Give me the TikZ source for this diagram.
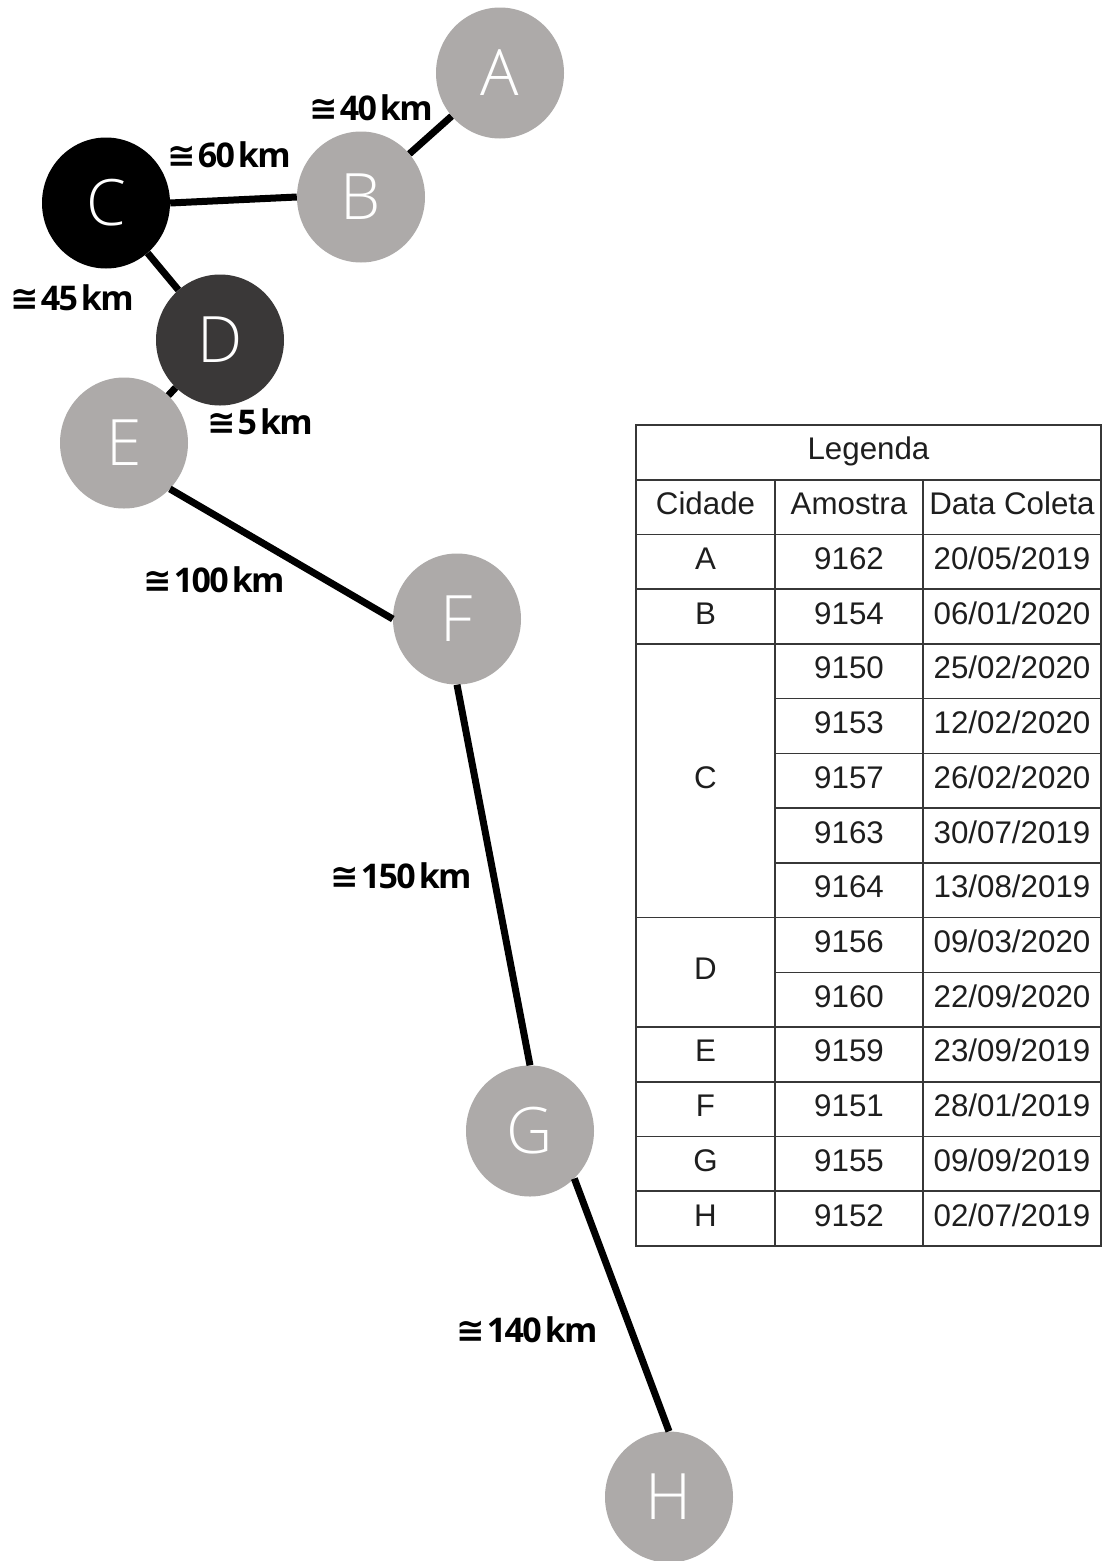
\documentclass[tikz,border=0pt]{standalone}
\usepackage{fontspec}
\setmainfont{Liberation Sans}
\newfontfamily\cityfont{Open Sans Light}
\newfontfamily\kmfont[LetterSpace=-5]{Open Sans}
\newfontfamily\symfont{DejaVu Sans}
\usetikzlibrary{shapes.geometric}

\definecolor{cityGray}{RGB}{173,170,169}
\definecolor{cityDark}{RGB}{58,56,56}
\definecolor{gridLine}{RGB}{55,55,55}
\definecolor{cellText}{RGB}{30,30,30}

% distance label: congruence sign, value, unit
\newcommand\approxkm[1]{{\symfont\bfseries ≅}\hspace{2pt}#1\hspace{3pt}km}

\begin{document}
\begin{tikzpicture}[x=1pt,y=-1pt,
  city/.style={ellipse, minimum width=128pt, minimum height=131pt, inner sep=0pt,
    fill=cityGray, text=white, font=\cityfont\fontsize{64}{64}\selectfont},
  road/.style={line width=7pt, black},
  dist/.style={font=\kmfont\bfseries\fontsize{34}{34}\selectfont, inner sep=0pt},
  cell/.style={anchor=base, inner sep=0pt, text=cellText, font=\fontsize{31.3}{31.3}\selectfont},
  gridrule/.style={line width=1.6pt, gridLine}]

\useasboundingbox (0,0) rectangle (1103,1561);
\fill[white] (0,0) rectangle (1103,1561);

% roads (drawn first, cities cover their ends)
\coordinate (pA) at (500,73);
\coordinate (pB) at (361,197);
\coordinate (pC) at (106,203);
\coordinate (pD) at (220,340);
\coordinate (pE) at (124,443);
\coordinate (pF) at (457,619);
\coordinate (pG) at (530,1131);
\coordinate (pH) at (669,1497);

% cities
\node[city] (A) at (pA) {A};
\node[city] (B) at (pB) {B};
\node[city, fill=black] (C) at (pC) {C};
\node[city, fill=cityDark] (D) at (pD) {D};
\node[city] (E) at (pE) {E};
\node[city] (F) at (pF) {F};
\node[city] (G) at (pG) {G};
\node[city] (H) at (pH) {H};

\draw[road] (A) -- (B);
\draw[road] (B.west) -- (C.east);
\draw[road] (C) -- (D);
\draw[road] (D) -- (E);
\draw[road] (E.-45) -- (F.west);
\draw[road] (F.south) -- (G.north);
\draw[road] (G.-47) -- (H.north);

% distances
\node[dist] (dAB) at (371,108) {\approxkm{40}};
\node[dist] (dBC) at (229,155) {\approxkm{60}};
\node[dist] (dCD) at (72,298) {\approxkm{45}};
\node[dist] (dDE) at (260,422) {\approxkm{5}};
\node[dist] (dEF) at (214,580) {\approxkm{100}};
\node[dist] (dFG) at (401,876) {\approxkm{150}};
\node[dist] (dGH) at (527,1330) {\approxkm{140}};

% legend table
\def\rh{54.733}
\def\ty{425}
\def\bl{7.5}
\foreach \k in {1,2,3,4,9,11,12,13,14}
  \draw[gridrule] (636,{\ty+\k*\rh}) -- (1101,{\ty+\k*\rh});
\foreach \k in {5,6,7,8,10}
  \draw[gridrule] (775,{\ty+\k*\rh}) -- (1101,{\ty+\k*\rh});
\draw[gridrule] (775,{\ty+\rh}) -- (775,1246);
\draw[gridrule] (923,{\ty+\rh}) -- (923,1246);
\draw[gridrule, line width=2pt] (636,425) rectangle (1101,1246);

\node[cell] (legTitle) at (868.5,{\ty+0.5*\rh+\bl}) {Legenda};
\node[cell] (hCity) at (705.5,{\ty+1.5*\rh+\bl}) {Cidade};
\node[cell] (hSample) at (849,{\ty+1.5*\rh+\bl}) {Amostra};
\node[cell] (hDate) at (1012,{\ty+1.5*\rh+\bl}) {Data Coleta};

\foreach \k/\s/\d in {2/9162/20\slash 05\slash 2019, 3/9154/06\slash 01\slash 2020,
    4/9150/25\slash 02\slash 2020, 5/9153/12\slash 02\slash 2020, 6/9157/26\slash 02\slash 2020,
    7/9163/30\slash 07\slash 2019, 8/9164/13\slash 08\slash 2019, 9/9156/09\slash 03\slash 2020,
    10/9160/22\slash 09\slash 2020, 11/9159/23\slash 09\slash 2019, 12/9151/28\slash 01\slash 2019,
    13/9155/09\slash 09\slash 2019, 14/9152/02\slash 07\slash 2019}{
  \node[cell] (s\k) at (849,{\ty+(\k+0.5)*\rh+\bl}) {\s};
  \node[cell] (d\k) at (1012,{\ty+(\k+0.5)*\rh+\bl}) {\d};
}

\foreach \c/\k in {A/2, B/3, C/6, E/11, F/12, G/13, H/14}
  \node[cell] (c\c) at (705.5,{\ty+(\k+0.5)*\rh+\bl}) {\c};
\node[cell] (cD) at (705.5,{\ty+10*\rh+\bl}) {D};

\end{tikzpicture}
\end{document}
